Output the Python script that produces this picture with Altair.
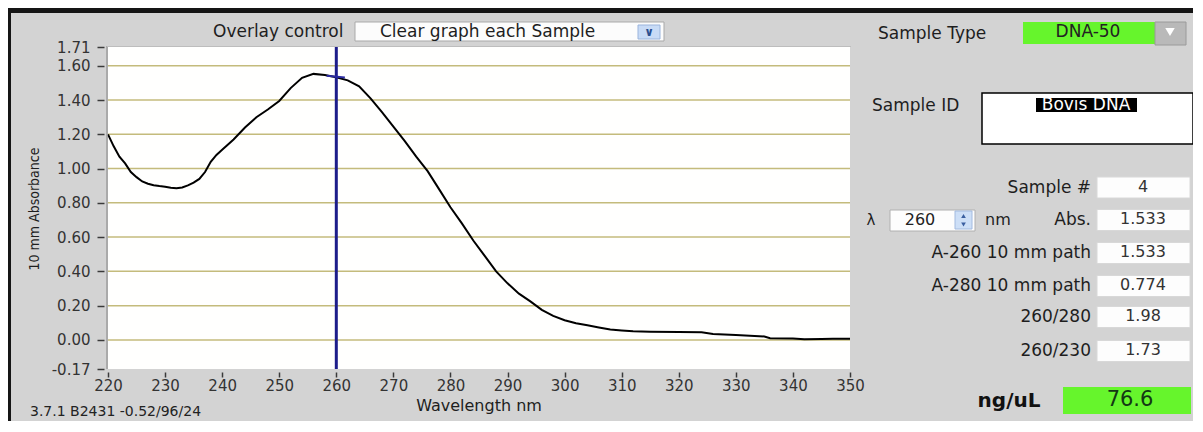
import altair as alt
import pandas as pd

# ---------------- data ----------------
wavelength_nm = [220, 221, 222, 223, 224, 225, 226, 227, 228, 229, 230, 231, 232, 233, 234,
                 235, 236, 237, 238, 239, 240, 242, 244, 246, 248, 250, 252, 254, 256, 258,
                 260, 262, 264, 266, 268, 270, 272, 274, 276, 278, 280, 282, 284, 286, 288,
                 290, 292, 294, 296, 298, 300, 302, 304, 306, 308, 310, 312, 315, 320, 324,
                 326, 330, 335, 336, 340, 342, 345, 347, 350]
absorbance = [1.20, 1.13, 1.07, 1.03, 0.98, 0.95, 0.925, 0.912, 0.903, 0.898, 0.894, 0.888,
              0.885, 0.890, 0.902, 0.918, 0.940, 0.980, 1.040, 1.080, 1.110, 1.170, 1.240,
              1.300, 1.345, 1.395, 1.470, 1.530, 1.553, 1.547, 1.533, 1.515, 1.480, 1.410,
              1.330, 1.245, 1.160, 1.070, 0.985, 0.880, 0.774, 0.680, 0.580, 0.490, 0.400,
              0.330, 0.270, 0.225, 0.175, 0.140, 0.115, 0.097, 0.085, 0.072, 0.060, 0.055,
              0.050, 0.048, 0.046, 0.044, 0.034, 0.029, 0.020, 0.010, 0.008, 0.004, 0.005,
              0.006, 0.006]

x_ticks = [220, 230, 240, 250, 260, 270, 280, 290, 300, 310, 320, 330, 340, 350]
y_ticks = [-0.17, 0.0, 0.2, 0.4, 0.6, 0.8, 1.0, 1.2, 1.4, 1.6, 1.71]
grid_values = [0.0, 0.2, 0.4, 0.6, 0.8, 1.0, 1.2, 1.4, 1.6]
x_domain = [220, 350]
y_domain = [-0.17, 1.71]

cursor_nm = 260
cursor_abs = 1.533

x_title = "Wavelength nm"
y_title = "10 mm Absorbance"
overlay_label = "Overlay control"
overlay_choice = "Clear graph each Sample"
sample_type_label = "Sample Type"
sample_type = "DNA-50"
sample_id_label = "Sample ID"
sample_id = "Bovis DNA"
sample_number_label = "Sample #"
sample_number = "4"
lambda_value = "260"
panel_labels = ["Abs.", "A-260 10 mm path", "A-280 10 mm path", "260/280", "260/230"]
panel_values = ["1.533", "1.533", "0.774", "1.98", "1.73"]
conc_label = "ng/uL"
conc_value = "76.6"
version_text = "3.7.1 B2431 -0.52/96/24"

# ---------------- layout ----------------
W, H = 742, 322          # plot area
PX0, PY0 = 108, 47       # page position of plot origin
PAD = {"left": 100, "top": 39, "right": 343, "bottom": 52}
UI_FONT = "DejaVu Sans"
NARROW_FONT = "'DejaVu Sans Condensed', 'Liberation Sans', sans-serif"
BG = "#d3d3d3"
GREEN = "#66f52c"


def px(x):
    return x - PX0


def py(y):
    return y - PY0


one = alt.Data(values=[{"k": 1}])


def box(x0, y0, x1, y1, fill, stroke=None, sw=1.0):
    kw = dict(fill=fill, strokeWidth=sw if stroke else 0)
    if stroke:
        kw["stroke"] = stroke
    return alt.Chart(one).mark_rect(**kw).encode(
        x=alt.value(px(x0)), x2=alt.value(px(x1)),
        y=alt.value(py(y0)), y2=alt.value(py(y1)))


def label(text, x, y, size=17, align="left", color="#1e1e1e", font=UI_FONT,
          weight="normal", angle=0):
    return alt.Chart(one).mark_text(
        text=text, align=align, baseline="middle", font=font, fontSize=size,
        color=color, fontWeight=weight, angle=angle).encode(
        x=alt.value(px(x)), y=alt.value(py(y)))


def arrow(shape, x, y, color, size=22):
    return alt.Chart(one).mark_point(
        shape=shape, filled=True, color=color, size=size, opacity=1).encode(
        x=alt.value(px(x)), y=alt.value(py(y)))


xs = alt.Scale(domain=x_domain, nice=False, zero=False)
ys = alt.Scale(domain=y_domain, nice=False, zero=False)

x_axis = alt.Axis(values=x_ticks, title=None, grid=False, domain=False, tickSize=5,
                  tickColor="#3a3a3a", tickWidth=1.5, offset=3, labelFont=UI_FONT,
                  labelFontSize=15, labelColor="#333333", labelPadding=1,
                  labelFlush=False, labelOverlap=False)
y_axis = alt.Axis(values=y_ticks, title=None, grid=False, domain=False, tickSize=7,
                  tickColor="#3a3a3a", tickWidth=1.5, offset=4, labelFont=UI_FONT,
                  labelFontSize=15, labelColor="#333333", labelPadding=7,
                  labelOverlap=False,
                  labelExpr="datum.value < 0 ? '-' + format(-datum.value, '.2f') : format(datum.value, '.2f')")

# ---------------- plot layers ----------------
grid = alt.Chart(pd.DataFrame({"g": grid_values})).mark_rule(
    color="#c4bb7c", strokeWidth=1.5).encode(
    y=alt.Y("g:Q", scale=ys, axis=y_axis), x=alt.value(0), x2=alt.value(W))

curve = alt.Chart(pd.DataFrame({"nm": wavelength_nm, "a": absorbance})).mark_line(
    color="#000000", strokeWidth=2).encode(
    x=alt.X("nm:Q", scale=xs, axis=x_axis),
    y=alt.Y("a:Q", scale=ys, axis=y_axis))

cursor_df = pd.DataFrame({"nm": [cursor_nm]})
cursor_line = alt.Chart(cursor_df).mark_rule(color="#1d1d8a", strokeWidth=3).encode(
    x=alt.X("nm:Q", scale=xs, axis=x_axis), y=alt.value(0), y2=alt.value(H))

tick_df = pd.DataFrame({"x1": [cursor_nm - 1.7], "x2": [cursor_nm + 1.5],
                        "y1": [cursor_abs + 0.009], "y2": [cursor_abs - 0.001]})
cursor_tick = alt.Chart(tick_df).mark_rule(color="#2a2aa0", strokeWidth=2).encode(
    x=alt.X("x1:Q", scale=xs, axis=x_axis), x2="x2:Q",
    y=alt.Y("y1:Q", scale=ys, axis=y_axis), y2="y2:Q")

left_border = alt.Chart(one).mark_rule(color="#9c9c9c", strokeWidth=1.5).encode(
    x=alt.value(-1), y=alt.value(-1), y2=alt.value(H))
top_border = alt.Chart(one).mark_rule(color="#bdbdbd", strokeWidth=1).encode(
    x=alt.value(-1), x2=alt.value(W + 1), y=alt.value(-0.5))

# ---------------- UI layers ----------------
ui = []
# frame
ui.append(box(8, 8, 1193, 13, "#151515"))
ui.append(box(8, 8, 11, 421, "#151515"))
# axis titles
ui.append(label(x_title, 479, 406, size=16, align="center"))
ui.append(label(y_title, 35, 209, size=14, align="center", font=NARROW_FONT, angle=270))
# overlay control
ui.append(label(overlay_label, 213, 32))
ui.append(box(355, 22, 664, 41, "#fcfcfc", "#a9a9a9"))
ui.append(label(overlay_choice, 380, 32))
ui.append(box(638, 25, 660, 39, "#c8dbf6", "#9ab4dc"))
ui.append(label("\u2228", 649, 32, size=12, align="center", color="#2b4f8f", weight="bold"))
# sample type
ui.append(label(sample_type_label, 878, 34))
ui.append(box(1023, 22, 1155, 44, GREEN))
ui.append(label(sample_type, 1088, 32, align="center", color="#222222"))
ui.append(box(1155, 22, 1186, 45, "#b9b9b9", "#9a9a9a"))
ui.append(arrow("triangle-down", 1170, 32, "#ffffff", size=90))
# sample id
ui.append(label(sample_id_label, 872, 106))
ui.append(box(982, 93, 1193, 144, "#ffffff", "#000000", 1.5))
ui.append(box(1036, 98, 1137, 112, "#000000"))
ui.append(label(sample_id, 1086, 105, size=17, align="center", color="#ffffff"))
# sample number
ui.append(label(sample_number_label, 1091, 188, align="right"))
ui.append(box(1097, 177, 1190, 198, "#fdfdfd", "#d8d8d8"))
ui.append(label(sample_number, 1143, 187, size=16, align="center", color="#333333"))
# lambda selector
ui.append(label("\u03bb", 871, 220, size=15, align="center"))
ui.append(box(890, 210, 975, 231, "#fdfdfd", "#b0b0b0"))
ui.append(label(lambda_value, 920, 220, size=16, align="center", color="#222222"))
ui.append(box(955, 211, 972, 229, "#cddff7", "#a2badf"))
ui.append(arrow("triangle-up", 963.5, 216, "#3a5fa0"))
ui.append(arrow("triangle-down", 963.5, 224.5, "#3a5fa0"))
ui.append(label("nm", 985, 220, size=16))
# result rows
row_centers = [220, 253, 286, 317, 351]
for name, val, yc in zip(panel_labels, panel_values, row_centers):
    ui.append(label(name, 1091, yc, align="right"))
    ui.append(box(1097, yc - 10.5, 1190, yc + 10.5, "#fdfdfd", "#d8d8d8"))
    ui.append(label(val, 1143, yc - 1, size=16, align="center", color="#333333"))
# concentration
ui.append(label(conc_label, 1009, 401, size=20, align="center", color="#111111", weight="bold"))
ui.append(box(1063, 387, 1191, 414, GREEN))
ui.append(label(conc_value, 1130, 400, size=21, align="center", color="#143814"))
# version string
ui.append(label(version_text, 30, 412, size=14, color="#222222"))

chart = alt.layer(grid, curve, cursor_line, cursor_tick, left_border, top_border, *ui).properties(
    width=W, height=H, background=BG, padding=PAD,
    autosize=alt.AutoSizeParams(type="none"),
).configure_view(fill="#fffffe", strokeWidth=0)

chart.save("out.html", embed_options={"renderer": "svg", "actions": False})
